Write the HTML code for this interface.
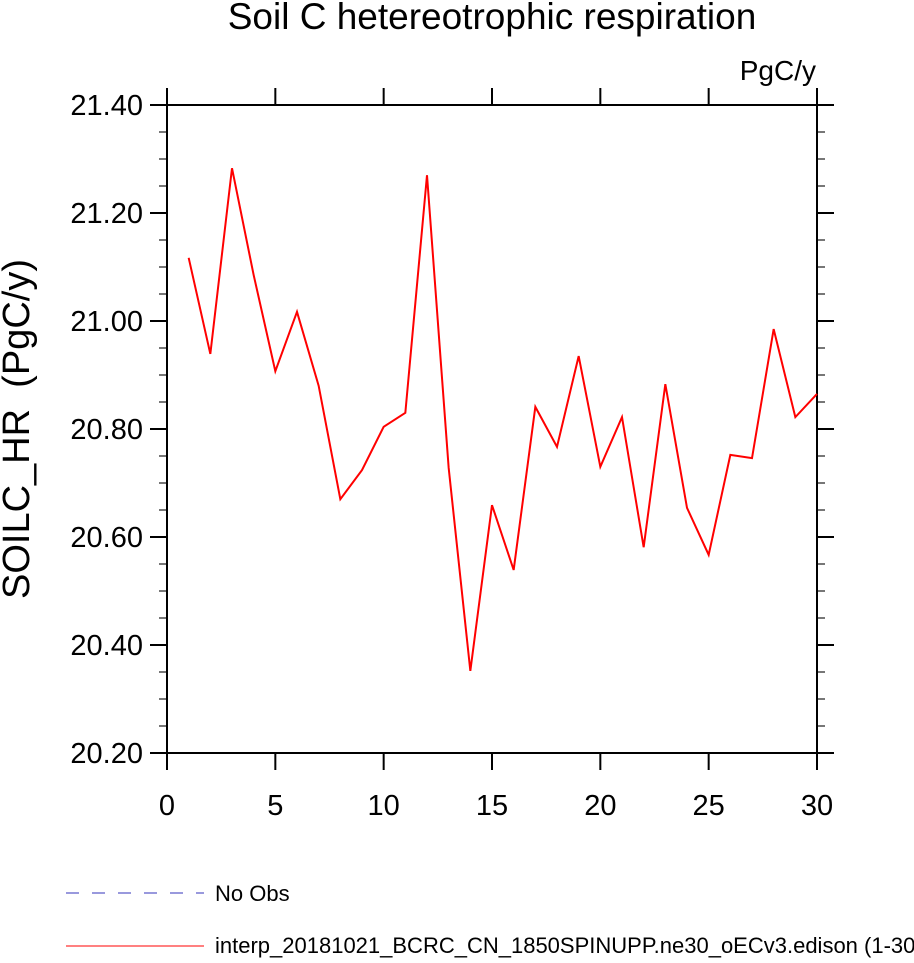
<!DOCTYPE html>
<html><head><meta charset="utf-8"><style>
body{margin:0;background:#fff;}
svg text{font-family:"Liberation Sans",sans-serif;fill:#000;}
</style></head><body>
<svg id="chart" width="914" height="958" xmlns="http://www.w3.org/2000/svg">
<text x="492" y="29" font-size="37" text-anchor="middle">Soil C hetereotrophic respiration</text>
<text x="816" y="80" font-size="28" text-anchor="end">PgC/y</text>
<text transform="translate(29,429) rotate(-90)" font-size="38" text-anchor="middle">SOILC_HR&#160; (PgC/y)</text>
<g id="axes"></g>
<polyline id="series" fill="none" stroke="#ff0000" stroke-width="2"/>
<line x1="66" y1="893" x2="204" y2="893" stroke="#3333bb" stroke-width="1" stroke-dasharray="13,13"/>
<text x="215" y="901" font-size="22">No Obs</text>
<line x1="66" y1="946" x2="204" y2="946" stroke="#ff0000" stroke-width="1"/>
<text x="215" y="953" font-size="22">interp_20181021_BCRC_CN_1850SPINUPP.ne30_oECv3.edison (1-30)</text>
</svg>
<script>
const years=[1,2,3,4,5,6,7,8,9,10,11,12,13,14,15,16,17,18,19,20,21,22,23,24,25,26,27,28,29,30];
const values=[21.117,20.939,21.283,21.085,20.907,21.017,20.880,20.670,20.724,20.804,20.830,21.270,20.728,20.352,20.659,20.539,20.841,20.767,20.935,20.730,20.822,20.581,20.883,20.654,20.567,20.752,20.746,20.985,20.822,20.865];
const xTicks=[0,5,10,15,20,25,30];
const yTicks=[20.2,20.4,20.6,20.8,21.0,21.2,21.4];
const yTickLabels=["20.20","20.40","20.60","20.80","21.00","21.20","21.40"];
const X0=167,X1=817,Y0=753,Y1=105;
const xs=v=>X0+(v-0)/30*(X1-X0);
const ys=v=>Y0-(v-20.2)/1.2*(Y0-Y1);
const NS="http://www.w3.org/2000/svg";
const g=document.getElementById('axes');
function ln(x1,y1,x2,y2,c,w,name){const l=document.createElementNS(NS,'line');
l.setAttribute('x1',x1);l.setAttribute('y1',y1);l.setAttribute('x2',x2);l.setAttribute('y2',y2);
l.setAttribute('stroke',c);l.setAttribute('stroke-width',w);


g.appendChild(l);}
function tx(x,y,s,anchor,name){const t=document.createElementNS(NS,'text');
t.setAttribute('x',x);t.setAttribute('y',y);t.setAttribute('font-size','29');t.setAttribute('text-anchor',anchor);t.textContent=s;


g.appendChild(t);}
for(let v=20.25;v<21.4;v+=0.05){const y=ys(v);ln(159,y,X0,y,'#777',2,'y-minor-tick-left');ln(X1,y,825,y,'#777',2,'y-minor-tick-right');}
yTicks.forEach((v,i)=>{const y=ys(v);ln(150,y,X0,y,'#000',2,'y-major-tick-left');ln(X1,y,834,y,'#000',2,'y-major-tick-right');tx(143,y+10,yTickLabels[i],'end','y-tick-label');});
xTicks.forEach(v=>{const x=xs(v);ln(x,Y0,x,Y0+17,'#000',2,'x-major-tick-bottom');ln(x,Y1,x,Y1-17,'#000',2,'x-major-tick-top');tx(x,815,String(v),'middle','x-tick-label');});
ln(X0,Y1,X1,Y1,'#000',2,'plot-border-top');ln(X0,Y0,X1,Y0,'#000',2,'plot-border-bottom');
ln(X0,Y1,X0,Y0,'#000',2,'plot-border-left');ln(X1,Y1,X1,Y0,'#000',2,'plot-border-right');
document.getElementById('series').setAttribute('points',years.map((y,i)=>xs(y)+','+ys(values[i])).join(' '));
</script>
</body></html>
